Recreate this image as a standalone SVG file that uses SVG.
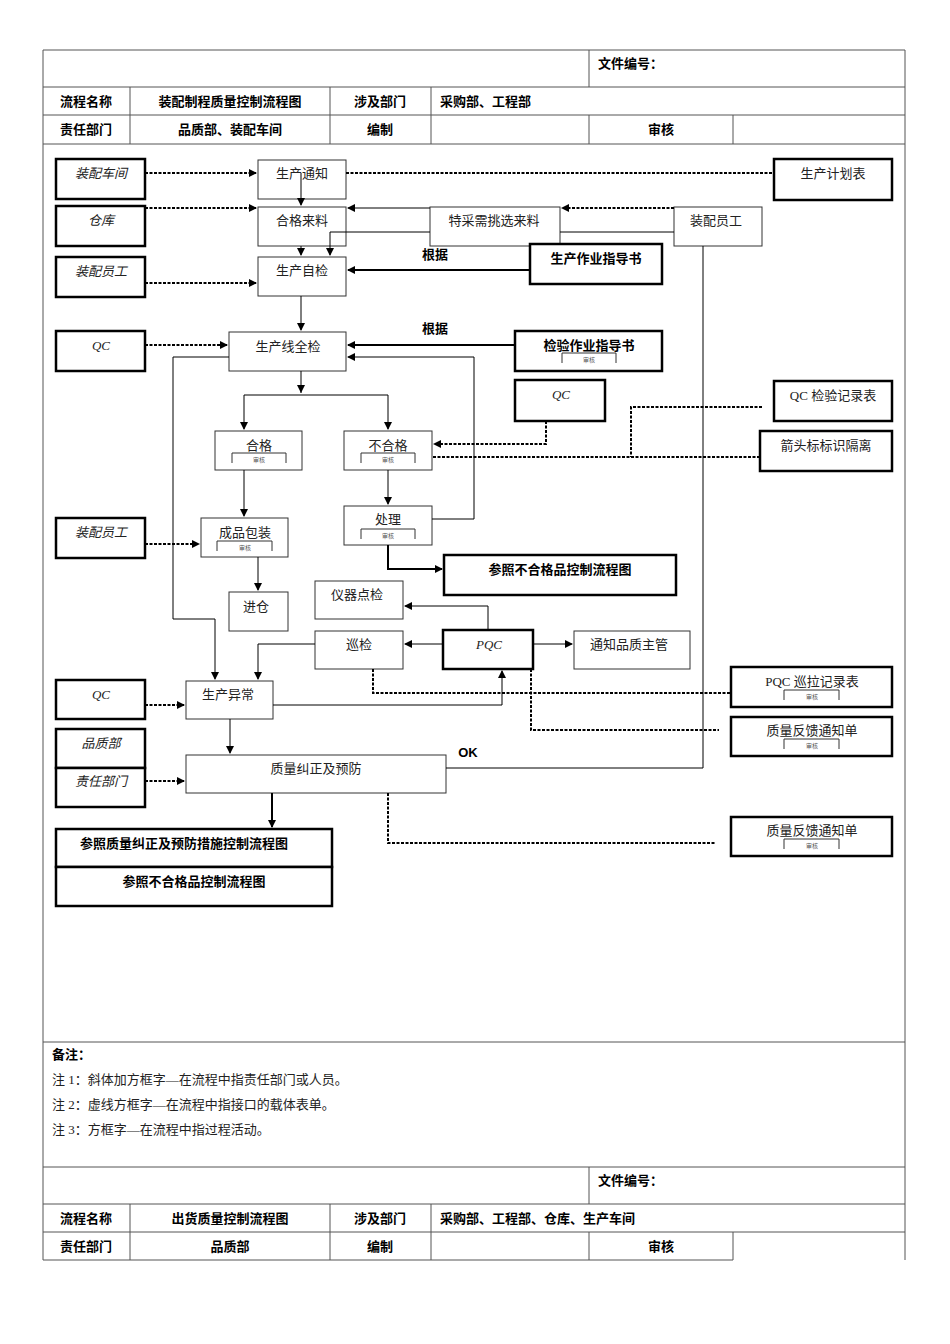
<svg xmlns="http://www.w3.org/2000/svg" width="950" height="1344" viewBox="0 0 950 1344">
<defs>
<marker id="a" markerWidth="8" markerHeight="8" refX="7" refY="4" orient="auto" markerUnits="userSpaceOnUse"><path d="M0,0 L8,4 L0,8 z" fill="#000"/></marker>
<style>
text{font-family:"Liberation Serif","Noto Sans CJK SC",serif;font-size:13px;fill:#222}
.h{font-family:"Liberation Sans","Noto Sans CJK SC",sans-serif;font-weight:bold;font-size:13px;fill:#000}
.i{font-style:italic}
.n{fill:#fff;stroke:#333;stroke-width:1}
.t{fill:#fff;stroke:#000;stroke-width:2.5}
.g{stroke:#555;stroke-width:1;fill:none}
.s{stroke:#000;stroke-width:1;fill:none}
.k{stroke:#000;stroke-width:2;fill:none}
.d{stroke:#000;stroke-width:2;stroke-dasharray:3,1.5;fill:none}
.br{stroke:#333;stroke-width:1;fill:none}
.sm{font-size:6px;fill:#555}
</style>
</defs>
<rect width="950" height="1344" fill="#fff"/>
<g id="header1">
<path class="g" d="M43,50H905V1260M43,50V1260M43,87H905M43,115H905M43,144H905M589,50V87M130,87V144M330,87V144M431,87V144M589,115V144M733,115V144"/>
<text class="h" x="598" y="68">文件编号：</text>
<text class="h" x="86" y="106" text-anchor="middle">流程名称</text>
<text class="h" x="230" y="106" text-anchor="middle">装配制程质量控制流程图</text>
<text class="h" x="380" y="106" text-anchor="middle">涉及部门</text>
<text class="h" x="440" y="106">采购部、工程部</text>
<text class="h" x="86" y="134" text-anchor="middle">责任部门</text>
<text class="h" x="230" y="134" text-anchor="middle">品质部、装配车间</text>
<text class="h" x="380" y="134" text-anchor="middle">编制</text>
<text class="h" x="661" y="134" text-anchor="middle">审核</text>
</g>
<g id="n1"><rect class="t" x="56" y="159" width="89" height="40"/><text class="i" x="101" y="178" text-anchor="middle">装配车间</text></g>
<g id="n2"><rect class="t" x="56" y="206" width="89" height="40"/><text class="i" x="101" y="225" text-anchor="middle">仓库</text></g>
<g id="n3"><rect class="t" x="56" y="257" width="89" height="40"/><text class="i" x="101" y="276" text-anchor="middle">装配员工</text></g>
<g id="n4"><rect class="t" x="56" y="331" width="89" height="40"/><text class="i" x="101" y="350" text-anchor="middle">QC</text></g>
<g id="n5"><rect class="n" x="258" y="160" width="88" height="39"/><text x="302" y="178" text-anchor="middle">生产通知</text></g>
<g id="n6"><rect class="n" x="258" y="207" width="88" height="39"/><text x="302" y="225" text-anchor="middle">合格来料</text></g>
<g id="n7"><rect class="n" x="258" y="257" width="88" height="39"/><text x="302" y="275" text-anchor="middle">生产自检</text></g>
<g id="n8"><rect class="n" x="229" y="332" width="117" height="39"/><text x="288" y="351" text-anchor="middle">生产线全检</text></g>
<g id="n9"><rect class="n" x="215" y="431" width="87" height="39"/><text x="259" y="450" text-anchor="middle">合格</text><path class="br" d="M232,463V453H286V463"/><text class="sm" x="259" y="462" text-anchor="middle">审核</text></g>
<g id="n10"><rect class="n" x="344" y="431" width="88" height="39"/><text x="388" y="450" text-anchor="middle">不合格</text><path class="br" d="M361,463V453H415V463"/><text class="sm" x="388" y="462" text-anchor="middle">审核</text></g>
<g id="n11"><rect class="n" x="430" y="207" width="130" height="39"/><text x="494" y="225" text-anchor="middle">特采需挑选来料</text></g>
<g id="n12"><rect class="n" x="674" y="207" width="88" height="39"/><text x="716" y="225" text-anchor="middle">装配员工</text></g>
<g id="n13"><rect class="t" x="774" y="159" width="118" height="41"/><text x="833" y="178" text-anchor="middle">生产计划表</text></g>
<g id="n14"><rect class="t" x="530" y="244" width="132" height="40"/><text class="h" x="596" y="263" text-anchor="middle">生产作业指导书</text></g>
<g id="n15"><rect class="t" x="515" y="331" width="147" height="40"/><text class="h" x="589" y="350" text-anchor="middle">检验作业指导书</text><path class="br" d="M562,363V353H616V363"/><text class="sm" x="589" y="362" text-anchor="middle">审核</text></g>
<g id="n16"><rect class="t" x="515" y="380" width="90" height="41"/><text class="i" x="561" y="399" text-anchor="middle">QC</text></g>
<g id="n17"><rect class="t" x="774" y="381" width="118" height="40"/><text x="833" y="400" text-anchor="middle">QC 检验记录表</text></g>
<g id="n18"><rect class="t" x="760" y="431" width="132" height="40"/><text x="826" y="450" text-anchor="middle">箭头标标识隔离</text></g>
<g id="n19"><rect class="t" x="56" y="518" width="89" height="40"/><text class="i" x="101" y="537" text-anchor="middle">装配员工</text></g>
<g id="n20"><rect class="n" x="201" y="518" width="87" height="39"/><text x="245" y="537" text-anchor="middle">成品包装</text><path class="br" d="M217,551V541H272V551"/><text class="sm" x="245" y="550" text-anchor="middle">审核</text></g>
<g id="n21"><rect class="n" x="344" y="506" width="88" height="39"/><text x="388" y="524" text-anchor="middle">处理</text><path class="br" d="M361,539V529H415V539"/><text class="sm" x="388" y="538" text-anchor="middle">审核</text></g>
<g id="n22"><rect class="t" x="444" y="555" width="232" height="40"/><text class="h" x="560" y="574" text-anchor="middle">参照不合格品控制流程图</text></g>
<g id="n23"><rect class="n" x="315" y="581" width="88" height="38"/><text x="357" y="599" text-anchor="middle">仪器点检</text></g>
<g id="n24"><rect class="n" x="229" y="592" width="59" height="39"/><text x="256" y="611" text-anchor="middle">进仓</text></g>
<g id="n25"><rect class="n" x="315" y="631" width="88" height="38"/><text x="359" y="649" text-anchor="middle">巡检</text></g>
<g id="n26"><rect class="t" x="443" y="630" width="90" height="39"/><text class="i" x="489" y="649" text-anchor="middle">PQC</text></g>
<g id="n27"><rect class="n" x="574" y="631" width="116" height="38"/><text x="629" y="649" text-anchor="middle">通知品质主管</text></g>
<g id="n28"><rect class="t" x="56" y="680" width="89" height="39"/><text class="i" x="101" y="699" text-anchor="middle">QC</text></g>
<g id="n29"><rect class="n" x="186" y="681" width="87" height="38"/><text x="228" y="699" text-anchor="middle">生产异常</text></g>
<g id="n30"><rect class="t" x="56" y="729" width="89" height="39"/><text class="i" x="101" y="748" text-anchor="middle">品质部</text><rect class="t" x="56" y="768" width="89" height="39"/><text class="i" x="101" y="786" text-anchor="middle">责任部门</text></g>
<g id="n31"><rect class="n" x="186" y="755" width="260" height="38"/><text x="316" y="773" text-anchor="middle">质量纠正及预防</text></g>
<g id="n32"><rect class="t" x="56" y="829" width="276" height="38"/><text class="h" x="184" y="848" text-anchor="middle">参照质量纠正及预防措施控制流程图</text><rect class="t" x="56" y="867" width="276" height="39"/><text class="h" x="194" y="886" text-anchor="middle">参照不合格品控制流程图</text></g>
<g id="n33"><rect class="t" x="731" y="667" width="161" height="40"/><text x="812" y="686" text-anchor="middle">PQC 巡拉记录表</text><path class="br" d="M784,700V690H839V700"/><text class="sm" x="812" y="699" text-anchor="middle">审核</text></g>
<g id="n34"><rect class="t" x="731" y="717" width="161" height="39"/><text x="812" y="735" text-anchor="middle">质量反馈通知单</text><path class="br" d="M784,749V739H839V749"/><text class="sm" x="812" y="748" text-anchor="middle">审核</text></g>
<g id="n35"><rect class="t" x="731" y="817" width="161" height="39"/><text x="812" y="835" text-anchor="middle">质量反馈通知单</text><path class="br" d="M784,849V839H839V849"/><text class="sm" x="812" y="848" text-anchor="middle">审核</text></g>
<g id="connectors">
<path class="d" d="M145,173H256" marker-end="url(#a)"/>
<path class="d" d="M145,208H256" marker-end="url(#a)"/>
<path class="d" d="M145,283H256" marker-end="url(#a)"/>
<path class="d" d="M145,345H227" marker-end="url(#a)"/>
<path class="d" d="M346,173H774"/>
<path class="s" d="M301,173V205" marker-end="url(#a)"/>
<path class="s" d="M301,246V255" marker-end="url(#a)"/>
<path class="s" d="M430,232H330V255" marker-end="url(#a)"/>
<path class="d" d="M674,208H562" marker-end="url(#a)"/>
<path class="s" d="M430,208H348" marker-end="url(#a)"/>
<path class="s" d="M560,232H674"/>
<path class="k" d="M530,270H348" marker-end="url(#a)"/>
<path class="s" d="M301,296V330" marker-end="url(#a)"/>
<path class="k" d="M515,345H348" marker-end="url(#a)"/>
<path class="s" d="M301,371V393"/>
<path d="M297,385L301,393L305,385z"/>
<path class="s" d="M244,395H388V429" marker-end="url(#a)"/>
<path class="s" d="M244,395V429" marker-end="url(#a)"/>
<path class="s" d="M432,519H474V357H348" marker-end="url(#a)"/>
<path class="s" d="M229,357H173V619H215V679" marker-end="url(#a)"/>
<path class="s" d="M244,470V516" marker-end="url(#a)"/>
<path class="s" d="M388,470V504" marker-end="url(#a)"/>
<path class="s" d="M258,557V590" marker-end="url(#a)"/>
<path class="d" d="M145,544H199" marker-end="url(#a)"/>
<path class="k" d="M388,545V569H442" marker-end="url(#a)"/>
<path class="d" d="M546,421V444H434" marker-end="url(#a)"/>
<path class="d" d="M762,407H631V457M760,457H432"/>
<path class="s" d="M703,246V768H446"/>
<path class="s" d="M488,630V606H405" marker-end="url(#a)"/>
<path class="s" d="M443,644H405" marker-end="url(#a)"/>
<path class="s" d="M533,644H572" marker-end="url(#a)"/>
<path class="s" d="M315,644H258V679" marker-end="url(#a)"/>
<path class="d" d="M373,669V693H731"/>
<path class="s" d="M273,705H502V671" marker-end="url(#a)"/>
<path class="d" d="M531,669V730H719"/>
<path class="d" d="M145,705H184" marker-end="url(#a)"/>
<path class="s" d="M230,719V753" marker-end="url(#a)"/>
<path class="d" d="M145,781H184" marker-end="url(#a)"/>
<path class="k" d="M272,793V827" marker-end="url(#a)"/>
<path class="d" d="M388,793V843H716"/>
<text class="h" x="435" y="259" text-anchor="middle">根据</text>
<text class="h" x="435" y="333" text-anchor="middle">根据</text>
<text class="h" x="468" y="757" text-anchor="middle" font-size="12">OK</text>
</g>
<g id="notes">
<path class="g" d="M43,1042H905M43,1167H905"/>
<text class="h" x="52" y="1059">备注：</text>
<text x="52" y="1084">注 1：斜体加方框字—在流程中指责任部门或人员。</text>
<text x="52" y="1109">注 2：虚线方框字—在流程中指接口的载体表单。</text>
<text x="52" y="1134">注 3：方框字—在流程中指过程活动。</text>
</g>
<g id="header2">
<path class="g" d="M43,1204H905M43,1232H905M589,1167V1204M130,1204V1260M330,1204V1260M431,1204V1260M589,1232V1260M733,1232V1260M43,1260H733"/>
<text class="h" x="598" y="1185">文件编号：</text>
<text class="h" x="86" y="1223" text-anchor="middle">流程名称</text>
<text class="h" x="230" y="1223" text-anchor="middle">出货质量控制流程图</text>
<text class="h" x="380" y="1223" text-anchor="middle">涉及部门</text>
<text class="h" x="440" y="1223">采购部、工程部、仓库、生产车间</text>
<text class="h" x="86" y="1251" text-anchor="middle">责任部门</text>
<text class="h" x="230" y="1251" text-anchor="middle">品质部</text>
<text class="h" x="380" y="1251" text-anchor="middle">编制</text>
<text class="h" x="661" y="1251" text-anchor="middle">审核</text>
</g>
</svg>
